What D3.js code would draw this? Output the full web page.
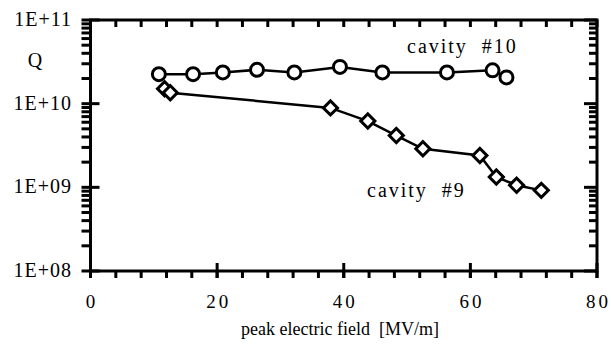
<!DOCTYPE html>
<html>
<head>
<meta charset="utf-8">
<script src="https://cdn.jsdelivr.net/npm/d3@7"></script>
<style>
  body { margin: 0; background: #fff; }
</style>
</head>
<body>
<div id="chart"></div>
<script>
// cavity #10 (circles)
const field10 = [10.8, 16.2, 20.9, 26.3, 32.2, 39.4, 46.1, 56.3, 63.5, 65.7];
const q10 = [2.25e10, 2.25e10, 2.36e10, 2.54e10, 2.36e10, 2.75e10, 2.36e10, 2.36e10, 2.5e10, 2.06e10];
// cavity #9 (diamonds)
const field9 = [11.7, 12.6, 37.9, 43.8, 48.3, 52.5, 61.5, 64.1, 67.3, 71.2];
const q9 = [1.51e10, 1.35e10, 8.9e9, 6.2e9, 4.16e9, 2.89e9, 2.4e9, 1.33e9, 1.06e9, 9.2e8];
const xTicks = [0, 20, 40, 60, 80];
const yTicks = [1e8, 1e9, 1e10, 1e11];
const yTickLabels = ["1E+08", "1E+09", "1E+10", "1E+11"];

const SERIF = "Liberation Serif";

function drawChart() {
    const W = 611, H = 346;
    const L = 90.5, R = 597, T = 20, B = 271;
    const svg = d3.select("#chart").append("svg").attr("width", W).attr("height", H);
    const x = d3.scaleLinear().domain([0, 80]).range([L, R]);
    const y = d3.scaleLog().domain([1e8, 1e11]).range([B, T]);

    const minorX = d3.range(0, 81, 4);
    const minorY = [];
    [1e8, 1e9, 1e10].forEach(d => { for (let k = 2; k <= 9; k++) minorY.push(d * k); });

    // tick marks drawn from the scales
    const ticks = svg.append("g").attr("stroke", "black").attr("stroke-width", 3);
    const seg = (data, x1, x2, y1, y2) => ticks.append("g").selectAll("line").data(data).join("line")
        .attr("x1", x1).attr("x2", x2).attr("y1", y1).attr("y2", y2);
    seg(minorX, d => x(d), d => x(d), B, B + 7);          // bottom minor, outward
    seg(xTicks, d => x(d), d => x(d), B - 8, B + 7);      // bottom major, across
    seg(minorX, d => x(d), d => x(d), T, T + 7);          // top, inward
    seg(minorY, L - 9, L, d => y(d), d => y(d));          // left minor, outward
    seg(yTicks, L - 9, L + 9, d => y(d), d => y(d));      // left major, across
    seg(minorY, R - 8, R, d => y(d), d => y(d));          // right minor, inward
    seg(yTicks, R - 13, R, d => y(d), d => y(d));         // right major, inward

    svg.append("rect").attr("x", L).attr("y", T).attr("width", R - L).attr("height", B - T)
        .attr("fill", "none").attr("stroke", "black").attr("stroke-width", 3);

    const labels = svg.append("g").attr("font-family", SERIF).attr("fill", "black");

    labels.append("g").selectAll("text").data(xTicks).join("text")
        .attr("x", d => x(d) + 1.5).attr("y", 308).attr("text-anchor", "middle")
        .attr("font-size", 19).attr("letter-spacing", 3).text(d => d);
    labels.append("g").selectAll("text").data(yTicks).join("text")
        .attr("x", 72).attr("y", d => y(d) + 6).attr("text-anchor", "end")
        .attr("font-size", 20).attr("letter-spacing", 1).text((d, i) => yTickLabels[i]);

    labels.append("text").attr("x", 340).attr("y", 335).attr("text-anchor", "middle")
        .attr("font-size", 18).style("white-space", "pre").text("peak electric field  [MV/m]");
    labels.append("text").attr("x", 35).attr("y", 67).attr("text-anchor", "middle")
        .attr("font-size", 20).text("Q");

    const d10 = field10.map((f, i) => [f, q10[i]]);
    const d9 = field9.map((f, i) => [f, q9[i]]);
    const line = d3.line().x(d => x(d[0])).y(d => y(d[1]));

    svg.append("path").datum(d9).attr("d", line)
        .attr("fill", "none").attr("stroke", "black").attr("stroke-width", 2.5);
    svg.append("path").datum(d10).attr("d", line)
        .attr("fill", "none").attr("stroke", "black").attr("stroke-width", 2.5);

    svg.append("g").selectAll("path").data(d9).join("path")
        .attr("d", d3.symbol().type(d3.symbolSquare).size(100))
        .attr("transform", d => `translate(${x(d[0])},${y(d[1])}) rotate(45)`)
        .attr("fill", "white").attr("stroke", "black").attr("stroke-width", 3);
    svg.append("g").selectAll("circle").data(d10).join("circle")
        .attr("cx", d => x(d[0])).attr("cy", d => y(d[1])).attr("r", 6.5)
        .attr("fill", "white").attr("stroke", "black").attr("stroke-width", 3);

    labels.append("text").attr("x", 407).attr("y", 53)
        .attr("font-size", 20).attr("letter-spacing", 2).style("white-space", "pre")
        .text("cavity  #10");
    labels.append("text").attr("x", 367).attr("y", 197)
        .attr("font-size", 20).attr("letter-spacing", 2).style("white-space", "pre")
        .text("cavity  #9");
}

document.addEventListener("DOMContentLoaded", () => {
    drawChart();
});
</script>
</body>
</html>
